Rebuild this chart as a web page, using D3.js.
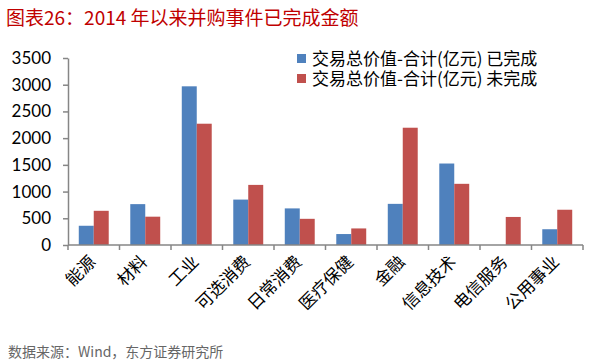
<!DOCTYPE html>
<html>
<head>
<meta charset="utf-8">
<script src="https://d3js.org/d3.v7.min.js"></script>
<style>
  body { margin: 0; background: #fff; }
  text { font-family: "Noto Sans CJK SC", "Noto Sans", sans-serif; }
</style>
</head>
<body>
<script>
  var width = 602;
  var height = 363;

  // data
  var categories = ["能源", "材料", "工业", "可选消费", "日常消费", "医疗保健", "金融", "信息技术", "电信服务", "公用事业"];
  var seriesNames = ["交易总价值-合计(亿元) 已完成", "交易总价值-合计(亿元) 未完成"];
  var completed = [360, 765, 2970, 850, 685, 205, 770, 1525, 0, 295];
  var pending   = [640, 530, 2270, 1125, 490, 310, 2195, 1145, 525, 660];
  var yTicks = [0, 500, 1000, 1500, 2000, 2500, 3000, 3500];
  var colors = ["#4F81BD", "#C0504D"];

  var svg = d3.select("body").append("svg")
    .attr("width", width)
    .attr("height", height);

  // title
  svg.append("text")
    .attr("x", 6)
    .attr("y", 25)
    .style("font-size", "19px")
    .style("fill", "#C00000")
    .text("图表26：2014 年以来并购事件已完成金额");

  var plotL = 68, plotR = 583, plotT = 58, plotB = 245;

  var y = d3.scaleLinear().domain([0, 3500]).range([plotB, plotT]);
  var x0 = d3.scaleBand().domain(categories).range([plotL, plotR]);
  var x1 = d3.scaleBand().domain([0, 1]).range([0, x0.bandwidth()]).paddingOuter(0.72);

  var rows = categories.map(function(c, i) { return { cat: c, vals: [completed[i], pending[i]] }; });

  var groups = svg.selectAll(".grp").data(rows).enter()
    .append("g")
    .attr("class", "grp")
    .attr("transform", function(d) { return "translate(" + x0(d.cat) + ",0)"; });

  groups.selectAll("rect")
    .data(function(d) { return d.vals.map(function(v, k) { return { k: k, v: v }; }); })
    .enter().append("rect")
    .attr("x", function(d) { return x1(d.k); })
    .attr("width", x1.bandwidth())
    .attr("y", function(d) { return y(d.v); })
    .attr("height", function(d) { return plotB - y(d.v); })
    .style("fill", function(d) { return colors[d.k]; });

  // y axis
  var yAxis = d3.axisLeft(y).tickValues(yTicks).tickFormat(d3.format("d"))
    .tickSize(5).tickPadding(12).tickSizeOuter(0);
  var gy = svg.append("g").attr("transform", "translate(" + plotL + ",0)").call(yAxis);
  gy.select(".domain").attr("stroke", "#868686").attr("stroke-width", 1.5);
  gy.selectAll(".tick line").attr("stroke", "#868686").attr("stroke-width", 1.5);
  gy.selectAll(".tick text")
    .style("font-family", "Lato, 'Open Sans', sans-serif")
    .style("font-size", "17px")
    .style("fill", "#000");

  // x axis with ticks at category boundaries
  var gx = svg.append("g");
  gx.append("line")
    .attr("x1", plotL).attr("x2", plotR)
    .attr("y1", plotB).attr("y2", plotB)
    .attr("stroke", "#868686").attr("stroke-width", 1.5);
  var bounds = categories.map(function(c) { return x0(c); }).concat([plotR]);
  gx.selectAll(".xt").data(bounds).enter()
    .append("line")
    .attr("x1", function(d) { return d; }).attr("x2", function(d) { return d; })
    .attr("y1", plotB).attr("y2", plotB + 5)
    .attr("stroke", "#868686").attr("stroke-width", 1.5);

  gx.selectAll(".xl").data(categories).enter()
    .append("text")
    .attr("text-anchor", "end")
    .attr("transform", function(d) {
      return "translate(" + (x0(d) + x0.bandwidth() / 2 + 3) + "," + (plotB + 18) + ") rotate(-45)";
    })
    .style("font-size", "17px")
    .style("fill", "#000")
    .text(function(d) { return d; });

  // legend
  var lg = svg.selectAll(".lg").data(seriesNames).enter()
    .append("g")
    .attr("transform", function(d, i) { return "translate(297," + (54 + i * 20) + ")"; });
  lg.append("rect")
    .attr("width", 9).attr("height", 9)
    .style("fill", function(d, i) { return colors[i]; });
  lg.append("text")
    .attr("x", 15)
    .attr("y", 11)
    .style("font-size", "17px")
    .style("fill", "#000")
    .text(function(d) { return d; });

  // source
  svg.append("text")
    .attr("x", 8)
    .attr("y", 357)
    .style("font-size", "14px")
    .style("fill", "#666")
    .text("数据来源：Wind，东方证券研究所");
</script>
</body>
</html>
